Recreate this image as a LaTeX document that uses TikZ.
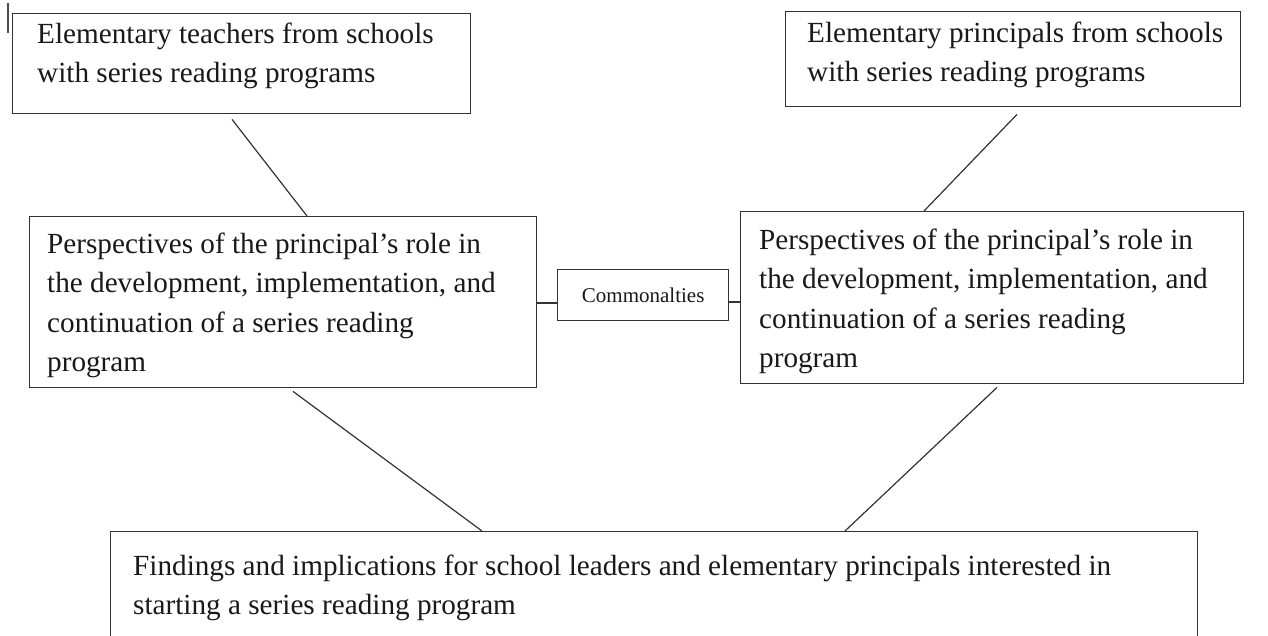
\documentclass[tikz,border=0pt]{standalone}
\usepackage{fontspec}
\setmainfont{Liberation Serif}
\usetikzlibrary{calc}
\begin{document}
\begin{tikzpicture}[x=1pt,y=-1pt,
  box/.style={draw=black!80, line width=1.4pt, inner sep=0pt, anchor=north west},
  txt/.style={inner sep=0pt, anchor=north west, align=left, font=\fontsize{29.2}{39.2}\selectfont, text=black!90},
  link/.style={draw=black!80, line width=1.2pt}]
\useasboundingbox (0,0) rectangle (1268,635);
\fill[white] (0,0) rectangle (1268,635);
\clip (0,0) rectangle (1268,635);
% stray mark
\draw[line width=1.5pt, black!70] (8,3) -- (8,33);
% boxes
\node[box, minimum width=458pt, minimum height=100pt] (A) at (12,13) {};
\node[box, minimum width=455pt, minimum height=95pt] (B) at (785,11) {};
\node[box, minimum width=507pt, minimum height=171pt] (C) at (29,216) {};
\node[box, minimum width=503pt, minimum height=172pt] (D) at (740,211) {};
\node[box, minimum width=171pt, minimum height=51pt, font=\fontsize{21}{25}\selectfont, text=black!90] (K) at (557,269) {Commonalties};
\node[box, minimum width=1087pt, minimum height=140pt] (E) at (110,531) {};
% texts
\node[txt] (TA) at (37,23) {Elementary teachers from schools\\with series reading programs};
\node[txt] (TB) at (807,22) {Elementary principals from schools\\with series reading programs};
\node[txt] (TC) at (47,233) {Perspectives of the principal’s role in\\the development, implementation, and\\continuation of a series reading\\program};
\node[txt] (TD) at (759,229) {Perspectives of the principal’s role in\\the development, implementation, and\\continuation of a series reading\\program};
\node[txt] (TE) at (133,555) {Findings and implications for school leaders and elementary principals interested in\\starting a series reading program};
% connector ends
\coordinate (a1) at ($(A.south west)+(220,5)$);
\coordinate (c0) at ($(C.north west)+(278,0)$);
\coordinate (b1) at ($(B.south west)+(232,7)$);
\coordinate (d0) at ($(D.north west)+(184,0)$);
\coordinate (c1) at ($(C.north east)+(0,87)$);
\coordinate (k1) at ($(K.north east)+(0,33)$);
\coordinate (c2) at ($(C.south west)+(264,3)$);
\coordinate (e1) at ($(E.north west)+(372,0)$);
\coordinate (d2) at ($(D.south west)+(257,3)$);
\coordinate (e2) at ($(E.north west)+(735,0)$);
% connectors
\draw[link] (a1) -- (c0);
\draw[link] (b1) -- (d0);
\draw[link] (c1) -- (c1 -| K.west);
\draw[link] (k1) -- (k1 -| D.west);
\draw[link] (c2) -- (e1);
\draw[link] (d2) -- (e2);
\end{tikzpicture}
\end{document}
